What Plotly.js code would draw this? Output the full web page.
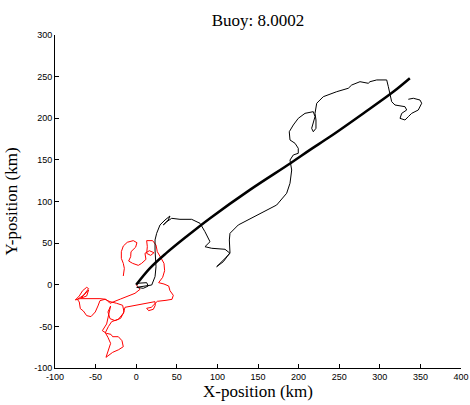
<!DOCTYPE html>
<html><head><meta charset="utf-8">
<script src="https://cdn.plot.ly/plotly-3.0.1.min.js"></script>
<style>body{margin:0;background:#fff}#chart{width:470px;height:405px}</style>
</head><body><div id="chart"></div>
<script>
// Mean drift (thick black)
const driftX = [0,17,37,62,91,140,190,214,239,280,317,337];
const driftY = [0,20,38,58,80,114,146,162,178,206,232,248];

// Observed buoy track (thin black)
const trackX = [0.6,12.9,14.9,8.7,0.6,4.7,19.1,23.2,24.4,23.2,23.2,25.2,29.3,35.5,41.6,39.5,33.4,37.6,43.7,53.9,68.3,78.6,84.7,90.9,84.7,93,109.4,115.5,111.5,101.1,99.1,107.3,115.5,114.7,115.5,125.7,148.4,173,185.3,189.4,191.5,189.4,193.5,199.6,199.6,195.6,189.4,188.5,193.5,199.6,207.9,218.1,220.2,218.1,216.1,218.1,221.4,221.4,220.2,222.3,230.4,246.9,261.2,265.4,275.6,285.8,287.9,296.2,308.5,310.5,312.6,314.6,318.7,331,333.1,327,324.9,331,335.1,339.3,347.4,351.6,349.5,341.3,335.1];
const trackY = [1.7,2.5,-1.5,-4.3,-3.1,-2.3,-0.3,9.7,21.7,41.7,53.8,61.8,71.8,77.8,82.6,77.8,71.8,75.7,79.8,78.6,78.6,73.8,63.7,51.7,45.7,43.8,42.6,37.8,33.7,23.7,21.7,27.7,38.5,53.8,61.8,71.8,83.8,95.8,109.9,121.9,137.8,149.8,155.9,157.9,163.9,169.9,173.9,183.8,191.9,199.9,205.9,207.9,201.9,195.9,187.9,183.8,187.9,197.9,205.9,218,225.9,231.9,236,239.9,243.9,242,243.9,246,246,237.9,230,219.9,215.9,213.9,209.9,205.9,199.9,197.9,201.9,205.9,209.9,218,221.9,224,222.8];

// Residual track (red)
const resX = [0,4.7,-1.5,-11.0,-19.2,-27.4,-32.3,-37.2,-44.6,-56.9,-69.2,-75.0,-70.1,-66.0,-61.0,-58.6,-62.7,-67.6,-61.0,-58.6,-64.3,-72.5,-70.1,-68.8,-65.1,-61.0,-55.7,-50.4,-47.1,-44.6,-38.5,-32.3,-24.1,-16.7,-15.0,-19.2,-26.1,-32.3,-34.8,-31.5,-36.4,-41.7,-36.4,-31.1,-29.0,-22.0,-17.5,-15.9,-21.6,-29.0,-37.2,-34.3,-31.5,-34.8,-38.0,-34.3,-30.2,-22.0,-15.9,-13.8,-4.8,10.8,23.1,23.5,21.1,15.3,12.9,18.6,26.0,36.7,44.1,45.7,41.6,40.0,34.2,27.6,32.6,35.0,34.2,30.1,26.0,24.4,20.2,12.9,13.7,12.9,17.8,21.9,16.2,10.8,12.0,6.7,2.6,-4.4,-9.3,-6.8,-6.4,-0.7,0.9,-3.6,-11.0,-15.9,-18.3,-18.3,-15.9,-14.6,-15.9];
const resY = [0,-5.5,-10.3,-13.5,-17.1,-20.3,-22.3,-17.5,-16.7,-16.7,-16.7,-18.3,-13.5,-7.1,-3.1,-4.7,-10.3,-15.9,-13.5,-6.3,-12.3,-17.5,-20.7,-28.7,-31.5,-37.1,-38.3,-32.7,-25.5,-19.1,-17.5,-20.3,-22.3,-24.7,-32.7,-40.3,-43.1,-40.7,-32.7,-25.5,-47.1,-55.2,-58.4,-59.6,-62.4,-62.4,-67.2,-74.4,-78.0,-81.2,-87.2,-78.4,-70.4,-63.2,-57.6,-50.3,-44.3,-41.5,-34.3,-27.1,-25.5,-22.3,-20.3,-24.7,-29.5,-31.1,-28.3,-27.1,-19.9,-18.7,-17.5,-12.7,-7.1,-1.5,0.9,2.5,8.9,16.9,25.7,32.9,39.7,47.7,53.0,53.0,45.7,37.7,35.3,38.5,40.9,37.7,30.5,25.7,23.3,25.7,28.5,33.7,39.7,45.1,50.5,53.0,51.0,46.5,39.7,31.7,25.7,19.7,10.5];

const xTicks = [-100,-50,0,50,100,150,200,250,300,350,400];
const yTicks = [-100,-50,0,50,100,150,200,250,300];

const serif = '"Liberation Serif", "Times New Roman", serif';
const sans = '"Liberation Sans", Arial, sans-serif';

const traces = [
  {x: resX, y: resY, mode: 'lines', line: {color: '#ff0000', width: 1}, hoverinfo: 'skip'},
  {x: trackX, y: trackY, mode: 'lines', line: {color: '#000000', width: 1}, hoverinfo: 'skip'},
  {x: driftX, y: driftY, mode: 'lines', line: {color: '#000000', width: 2.5, shape: 'spline'}, hoverinfo: 'skip'}
];

const layout = {
  width: 470, height: 405,
  margin: {l: 55, r: 9, t: 35, b: 37},
  paper_bgcolor: '#fff', plot_bgcolor: '#fff',
  showlegend: false,
  title: {text: 'Buoy: 8.0002', font: {family: serif, size: 17, color: '#000'}, x: 0.549, xanchor: 'center', y: 0.95, yanchor: 'middle'},
  xaxis: {
    range: [-100, 400], tickvals: xTicks, ticktext: xTicks.map(String),
    showgrid: false, zeroline: false, showline: true, linecolor: '#000', linewidth: 1,
    ticks: 'inside', ticklen: 4, tickcolor: '#000', mirror: false,
    tickfont: {family: sans, size: 9, color: '#000'},
    title: {text: 'X-position (km)', font: {family: serif, size: 17, color: '#000'}, standoff: 4}
  },
  yaxis: {
    range: [-100, 300], tickvals: yTicks, ticktext: yTicks.map(String),
    showgrid: false, zeroline: false, showline: true, linecolor: '#000', linewidth: 1,
    ticks: 'inside', ticklen: 4, tickcolor: '#000', mirror: false,
    tickfont: {family: sans, size: 9, color: '#000'},
    title: {text: 'Y-position (km)', font: {family: serif, size: 17, color: '#000'}, standoff: 12}
  }
};

Plotly.newPlot('chart', traces, layout, {staticPlot: true, displayModeBar: false});
</script></body></html>
